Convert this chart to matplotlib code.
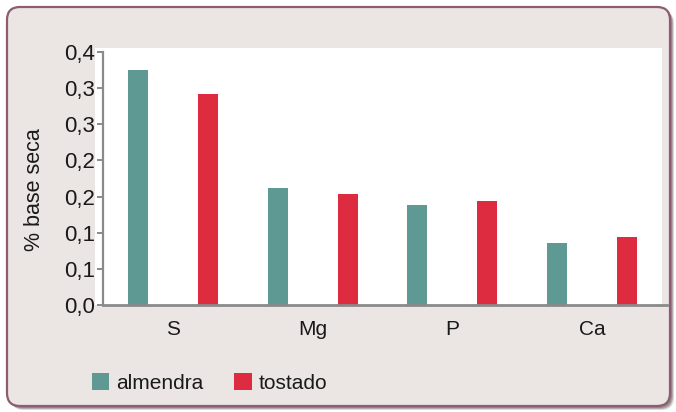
import matplotlib
matplotlib.use("Agg")
import matplotlib.pyplot as plt
from matplotlib.patches import FancyBboxPatch, Rectangle, Patch
from matplotlib.lines import Line2D
from matplotlib.transforms import IdentityTransform
import numpy as np

categories = ["S", "Mg", "P", "Ca"]
series_names = ["almendra", "tostado"]
almendra = [0.325, 0.162, 0.138, 0.086]
tostado = [0.292, 0.154, 0.144, 0.094]
ytick_values = [0.0, 0.05, 0.10, 0.15, 0.20, 0.25, 0.30, 0.35]
ytick_labels = ["0,0", "0,1", "0,1", "0,2", "0,2", "0,3", "0,3", "0,4"]
ylabel = "% base seca"

TEAL = "#5E9A93"
RED = "#DD2C3F"
BG = "#EBE6E4"
EDGE = "#8E5C70"
AXC = "#8A8A8A"

plt.rcParams["font.family"] = ["Liberation Sans", "DejaVu Sans"]

W, H = 676, 412
fig = plt.figure(figsize=(W / 100, H / 100), dpi=100)
fig.patch.set_facecolor("white")


def fx(x):
    return x / W


def fy(y):
    return 1 - y / H


def pix_box(x0, y0, x1, y1, **kw):
    # pixel coords (top-left origin) -> display coords
    return FancyBboxPatch((x0, H - y1), x1 - x0, y1 - y0,
                          boxstyle="round,pad=0,rounding_size=13",
                          transform=IdentityTransform(), **kw)


# shadow layers
for off, a in [(4, 0.25), (3, 0.35), (2, 0.45)]:
    fig.patches.append(pix_box(7 + off, 7 + off, 670 + off, 406 + off,
                               facecolor="#6a6060", edgecolor="none", alpha=a, zorder=0))
fig.patches.append(pix_box(7, 7, 670, 406, facecolor=BG, edgecolor=EDGE,
                           linewidth=1.6, zorder=1))

# white plot background
fig.patches.append(Rectangle((fx(95), fy(305.3)), fx(662 - 95), (305.3 - 48) / H,
                             transform=fig.transFigure, facecolor="white",
                             edgecolor="none", zorder=2))

ax = fig.add_axes([fx(103), fy(305.3), fx(662 - 103), (305.3 - 51.7) / H], zorder=3)
ax.set_facecolor("none")

x = np.arange(len(categories))
bw = 0.143
ax.bar(x - 0.25, almendra, width=bw, color=TEAL, zorder=2)
ax.bar(x + 0.25, tostado, width=bw, color=RED, zorder=2)

ax.set_xlim(-0.5, 3.5)
ax.set_ylim(0, 0.35)
ax.set_yticks(ytick_values)
ax.set_yticklabels(ytick_labels)
ax.set_xticks(x)
ax.set_xticklabels(categories)

for s in ["top", "right"]:
    ax.spines[s].set_visible(False)
ax.spines["left"].set_color(AXC)
ax.spines["left"].set_linewidth(1.6)
ax.spines["bottom"].set_visible(False)
ax.add_line(Line2D([0, 1.009], [0, 0], transform=ax.transAxes, color=AXC,
                   linewidth=2.0, clip_on=False, zorder=5))

ax.tick_params(axis="y", length=4.5, width=1.4, color=AXC, pad=1.0,
               labelsize=16, labelcolor="#1a1a1a")
ax.tick_params(axis="x", length=0, pad=10.5, labelsize=15, labelcolor="#1a1a1a")

fig.text(fx(34.5), fy(190), ylabel, rotation=90, ha="center", va="center",
         fontsize=15.5, color="#1a1a1a")

handles = [Patch(facecolor=TEAL, edgecolor="none"), Patch(facecolor=RED, edgecolor="none")]
fig.legend(handles, series_names, loc="center left",
           bbox_to_anchor=(fx(92), fy(383)), ncol=2, frameon=False,
           fontsize=15, handlelength=0.82, handleheight=0.9,
           handletextpad=0.33, columnspacing=1.5, borderpad=0,
           borderaxespad=0, labelcolor="#1a1a1a")

fig.savefig("out.png", dpi=100, facecolor="white")
